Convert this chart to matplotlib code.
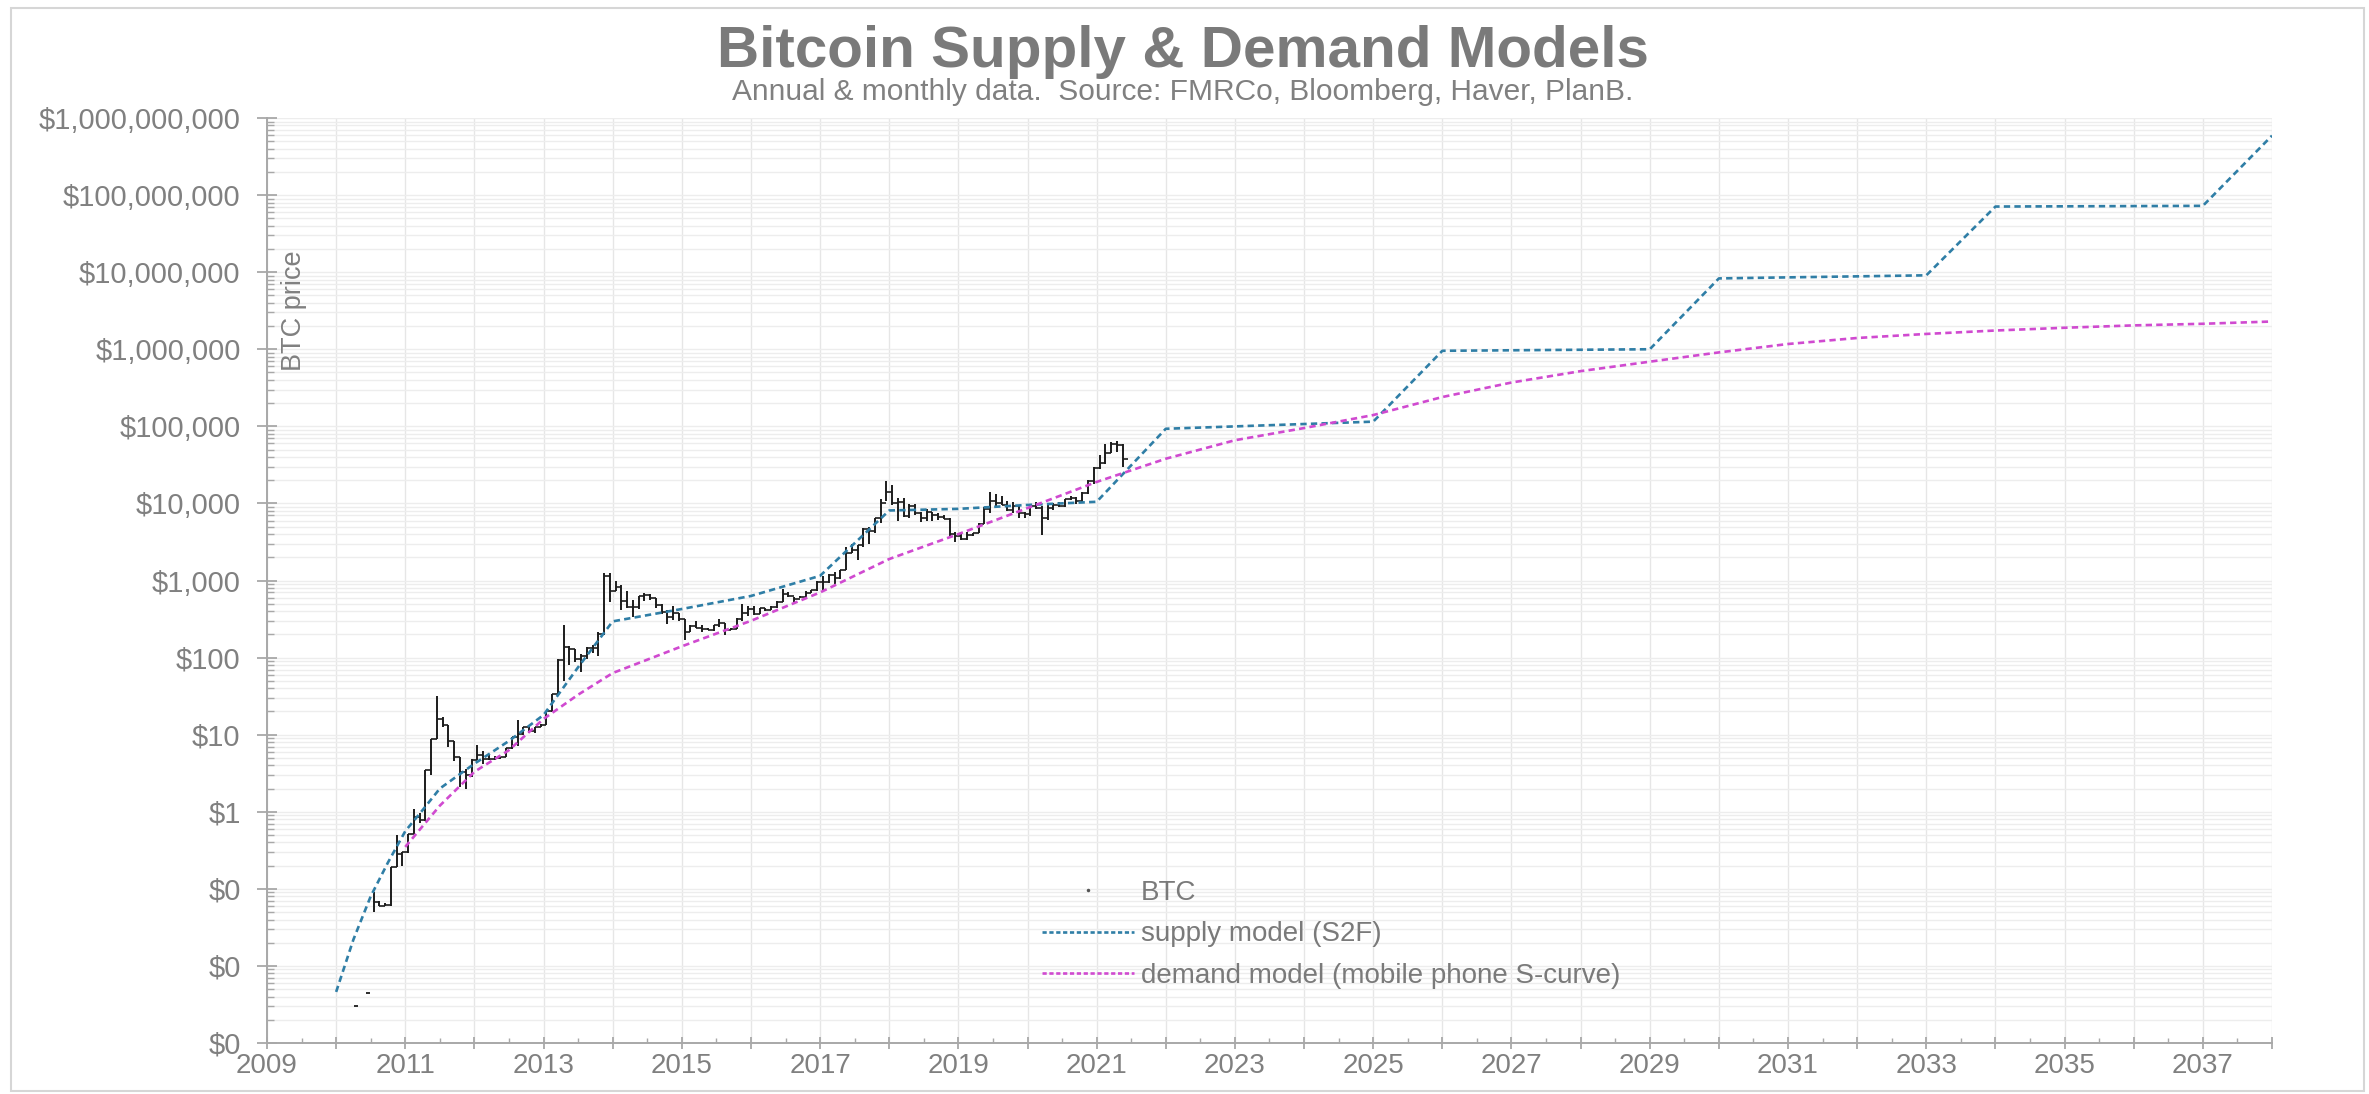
import matplotlib
matplotlib.use("Agg")
import matplotlib.pyplot as plt
from matplotlib.ticker import FixedLocator, FuncFormatter, LogLocator, NullFormatter
from matplotlib.lines import Line2D
from matplotlib.patches import Rectangle
import numpy as np

plt.rcParams['font.family'] = ['Liberation Sans', 'DejaVu Sans']

TITLE = "Bitcoin Supply & Demand Models"
SUBTITLE = "Annual & monthly data.  Source: FMRCo, Bloomberg, Haver, PlanB."
Y_LABEL = "BTC price"
LEGEND_LABELS = ["BTC", "supply model (S2F)", "demand model (mobile phone S-curve)"]

# Sparse early quotes in 2010 (year, month)
early_month = [(2010, 4), (2010, 6)]
early_price = [0.003, 0.0045]

# Monthly BTC bars (high / low / close), starting July 2010
btc_start = (2010, 7)
btc_high = [
    0.09, 0.07, 0.066, 0.19, 0.50, 0.30,
    0.52, 1.10, 0.95, 3.5, 8.7, 31.9, 16.9, 13.5, 8.4, 5.2, 3.6, 4.8,
    7.4, 6.1, 5.4, 5.3, 5.2, 6.8, 9.4, 15.4, 12.5, 12.9, 12.7, 13.7,
    20.4, 33.4, 95, 266, 140, 130, 112, 136, 146, 215, 1242, 1238,
    1000, 880, 720, 560, 630, 680, 660, 600, 500, 420, 460, 380,
    320, 265, 300, 262, 245, 265, 315, 285, 245, 330, 500, 465,
    460, 440, 440, 465, 550, 780, 700, 620, 630, 720, 755, 980,
    1150, 1200, 1290, 1350, 2760, 2990, 2910, 4760, 4980, 6470, 11400, 19780,
    17180, 11790, 11700, 9760, 9960, 7760, 8490, 7760, 7400, 7000, 6540, 4310,
    4110, 4210, 4110, 5640, 9070, 13880, 13130, 12330, 10900, 10350, 9510, 7750,
    9580, 10500, 9190, 9460, 10070, 10390, 11430, 12470, 12070, 14100, 19940, 29300,
    41950, 58350, 61790, 64860, 59500,
]
btc_low = [
    0.05, 0.06, 0.060, 0.06, 0.19, 0.20,
    0.29, 0.52, 0.71, 0.75, 3.0, 8.7, 12.5, 6.9, 4.6, 2.1, 2.0, 2.8,
    4.7, 4.2, 4.7, 4.7, 4.9, 5.2, 6.5, 7.1, 10.0, 10.5, 10.5, 12.4,
    13.3, 19.8, 33, 50, 80, 88, 65, 96, 113, 104, 199, 522,
    740, 410, 440, 340, 433, 540, 565, 440, 370, 275, 310, 300,
    170, 212, 240, 215, 228, 220, 253, 198, 225, 235, 300, 350,
    355, 365, 405, 415, 440, 530, 610, 530, 600, 605, 690, 740,
    750, 920, 900, 1060, 1350, 2300, 1840, 2680, 2980, 4140, 5520, 10830,
    9400, 6000, 6600, 6430, 7090, 5780, 5830, 5880, 6100, 6200, 3650, 3160,
    3400, 3390, 3730, 4100, 5330, 7510, 9070, 9470, 7860, 7450, 6520, 6440,
    6870, 8470, 3860, 6160, 8120, 8910, 8940, 10960, 9880, 10420, 13240, 17600,
    28130, 32300, 45000, 47050, 30000,
]
btc_close = [
    0.067, 0.060, 0.062, 0.19, 0.28, 0.30,
    0.52, 0.86, 0.78, 3.5, 8.7, 16.1, 13.4, 8.2, 5.1, 3.25, 3.0, 4.7,
    5.5, 4.9, 4.9, 4.95, 5.15, 6.7, 9.35, 10.2, 12.4, 11.2, 12.6, 13.5,
    20.4, 33.4, 93, 139, 129, 97, 106, 135, 133, 204, 1129, 732,
    830, 550, 450, 448, 628, 640, 585, 480, 387, 338, 378, 320,
    217, 254, 244, 236, 230, 264, 284, 230, 236, 314, 377, 430,
    368, 437, 416, 448, 531, 673, 624, 574, 609, 698, 742, 964,
    970, 1190, 1080, 1350, 2300, 2480, 2870, 4700, 4340, 6470, 10230, 14160,
    10220, 10400, 6930, 9240, 7500, 6400, 7730, 7030, 6630, 6370, 4040, 3740,
    3460, 3850, 4100, 5350, 8570, 10820, 10090, 9630, 8290, 9200, 7560, 7190,
    9350, 8600, 6440, 8660, 9460, 9140, 11350, 11680, 10780, 13800, 19700, 28990,
    33110, 45140, 58920, 57750, 37330,
]

# Supply model (stock-to-flow)
supply_year = [2010.0, 2010.25, 2010.5, 2010.75, 2011.0, 2011.25, 2011.5, 2011.75,
               2012.0, 2012.5, 2013.0, 2013.5, 2014.0, 2015.0, 2016.0, 2017.0,
               2018.0, 2019.0, 2020.0, 2021.0, 2022.0, 2025.0, 2026.0, 2029.0,
               2030.0, 2033.0, 2034.0, 2037.0, 2038.0]
supply_price = [0.0046, 0.022, 0.08, 0.22, 0.56, 1.05, 2.0, 2.9,
                4.2, 8.3, 18, 75, 295, 427, 630, 1150,
                8100, 8500, 9550, 10500, 93000, 115000, 955000, 1000000,
                8300000, 9100000, 71000000, 72500000, 590000000]

# Demand model (mobile phone adoption S-curve)
demand_year = [2011.0, 2011.5, 2012.0, 2012.5, 2013.0, 2013.5, 2014.0, 2015.0,
               2016.0, 2017.0, 2018.0, 2019.0, 2020.0, 2021.0, 2022.0, 2023.0,
               2024.0, 2025.0, 2026.0, 2027.0, 2028.0, 2029.0, 2030.0, 2031.0,
               2032.0, 2033.0, 2034.0, 2035.0, 2036.0, 2037.0, 2038.0]
demand_price = [0.35, 1.2, 3.3, 6.3, 16, 33, 63, 140,
                300, 700, 1900, 4000, 8700, 19000, 38000, 66000,
                95000, 140000, 240000, 370000, 520000, 690000, 910000, 1170000,
                1400000, 1580000, 1750000, 1900000, 2040000, 2140000, 2290000]

year_first, year_last = 2009, 2038
y_min, y_max = 1e-3, 1e9

GREY_TEXT = '#808080'
AXIS_GREY = '#a8a8a8'
SUPPLY_COLOR = '#2f7ea6'
DEMAND_COLOR = '#d04ad0'
BTC_COLOR = '#1c1c1c'

W, H, DPI = 2369, 1094, 100
fig = plt.figure(figsize=(W / DPI, H / DPI), dpi=DPI, facecolor='white')

# light frame around the whole figure
fig.patches.append(Rectangle((11 / W, 3 / H), (2364 - 11) / W, (1091 - 8) / H,
                             transform=fig.transFigure, fill=False,
                             edgecolor='#d6d6d6', linewidth=1.5))

ax = fig.add_axes([267 / W, 1 - 1043 / H, (2272 - 267) / W, (1043 - 118) / H])
ax.set_yscale('log')
ax.set_xlim(year_first, year_last)
ax.set_ylim(y_min, y_max)

# gridlines
ax.set_axisbelow(True)
ax.grid(True, which='major', axis='x', color='#e6e6e6', linewidth=1.0)
ax.grid(True, which='both', axis='y', color='#ededed', linewidth=1.0)

# monthly BTC bars: high-low range with the close stepping over to the next month
def month_pos(y, m):
    return y + (m - 0.5) / 12.0

y0, m0 = btc_start
bx = np.array([month_pos(y0 + (m0 - 1 + i) // 12, (m0 - 1 + i) % 12 + 1)
               for i in range(len(btc_close))])
ax.vlines(bx, btc_low, btc_high, color=BTC_COLOR, linewidth=1.4, zorder=3)
ax.hlines(btc_close, bx, bx + 1 / 12.0, color=BTC_COLOR, linewidth=1.2, zorder=3)
ex = np.array([month_pos(y, m) for y, m in early_month])
ax.hlines(early_price, ex - 0.03, ex + 0.03, color=BTC_COLOR, linewidth=1.3, zorder=3)

# model lines
dash = (2.4, 1.6)
ax.plot(supply_year, supply_price, color=SUPPLY_COLOR, linewidth=1.9,
        linestyle=(0, dash), zorder=4)
ax.plot(demand_year, demand_price, color=DEMAND_COLOR, linewidth=1.9,
        linestyle=(0, dash), zorder=4)

# axes styling
for side in ('top', 'right'):
    ax.spines[side].set_visible(False)
for side in ('left', 'bottom'):
    ax.spines[side].set_color(AXIS_GREY)
    ax.spines[side].set_linewidth(1.4)

years = np.arange(year_first, year_last + 1)
ax.xaxis.set_major_locator(FixedLocator(years))
ax.xaxis.set_major_formatter(FuncFormatter(
    lambda v, p: f"{int(round(v))}" if int(round(v)) % 2 == 1 and v < year_last else ""))
ax.xaxis.set_minor_locator(FixedLocator(years[:-1] + 0.5))

ax.yaxis.set_major_locator(LogLocator(base=10, numticks=20))
ax.yaxis.set_minor_locator(LogLocator(base=10, subs=np.arange(2, 10), numticks=200))
ax.yaxis.set_minor_formatter(NullFormatter())
ax.yaxis.set_major_formatter(FuncFormatter(lambda v, p: f"${v:,.0f}"))

ax.tick_params(axis='x', which='major', direction='inout', length=9, width=1.3,
               color=AXIS_GREY, labelsize=20, labelcolor=GREY_TEXT, pad=3)
ax.tick_params(axis='x', which='minor', direction='in', length=3.5, width=1.0,
               color=AXIS_GREY)
ax.tick_params(axis='y', which='major', direction='inout', length=14, width=1.3,
               color=AXIS_GREY, labelsize=21, labelcolor=GREY_TEXT, pad=12)
ax.tick_params(axis='y', which='minor', direction='in', length=5, width=1.0,
               color=AXIS_GREY)

ax.set_ylabel(Y_LABEL, fontsize=19.5, color=GREY_TEXT)
ax.yaxis.set_label_coords(0.020, 0.792)

# titles
fig.text(0.4994, 1 - 52 / H, TITLE, ha='center', va='center', fontsize=42,
         fontweight='bold', color='#7a7a7a')
fig.text(0.4994, 1 - 92 / H, SUBTITLE, ha='center', va='center', fontsize=21.5,
         color=GREY_TEXT)

# legend
handles = [
    Line2D([], [], color='#555555', marker='.', markersize=3, linestyle='none'),
    Line2D([], [], color=SUPPLY_COLOR, linewidth=1.9, linestyle=(0, (1.6, 1.0))),
    Line2D([], [], color=DEMAND_COLOR, linewidth=1.9, linestyle=(0, (1.6, 1.0))),
]
leg = fig.legend(handles, LEGEND_LABELS, loc='upper left',
                 bbox_to_anchor=(1042 / W, 1 - 880 / H), frameon=False,
                 fontsize=20, handlelength=3.3, handletextpad=0.25,
                 labelspacing=0.55, borderpad=0, borderaxespad=0)
for t in leg.get_texts():
    t.set_color('#7a7a7a')

fig.savefig('out.png', dpi=DPI, facecolor='white')
